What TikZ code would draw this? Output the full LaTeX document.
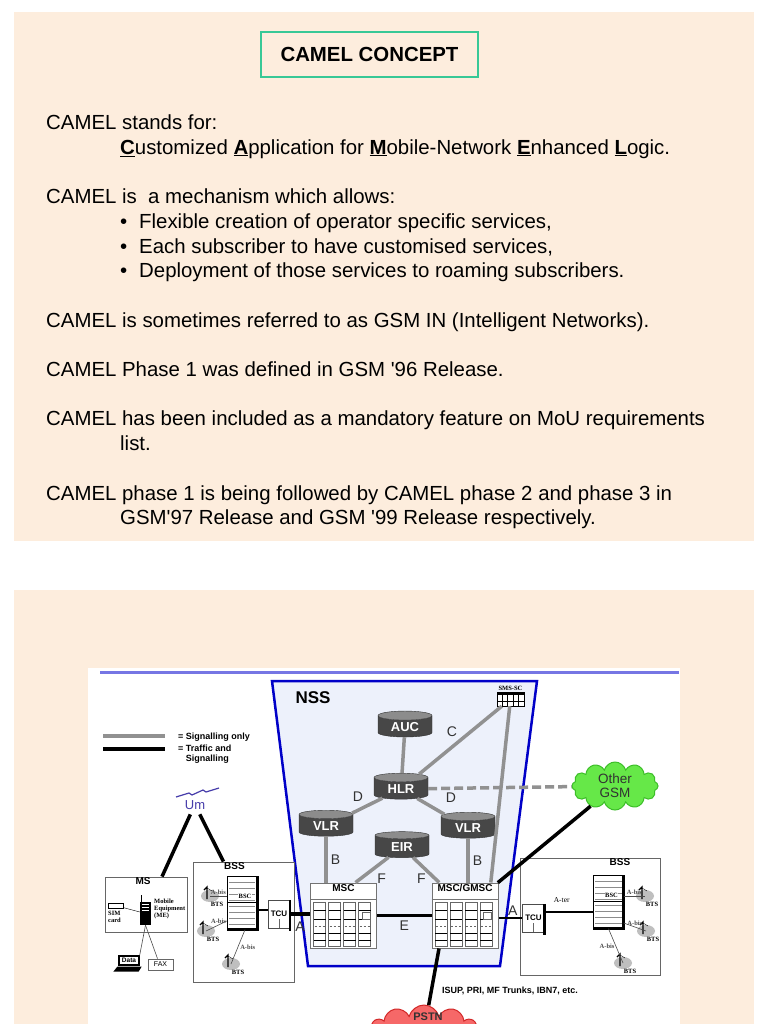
\documentclass[tikz,border=0pt]{standalone}
\usepackage{fontspec}
\setmainfont{Liberation Sans}
\setsansfont{Liberation Sans}
\newfontfamily\smallserif{Liberation Serif}
\usetikzlibrary{calc,positioning,shapes.geometric,shapes.misc,shapes.symbols}
\definecolor{paper}{RGB}{253,237,221}
\definecolor{titlegreen}{RGB}{56,200,150}
\definecolor{nssfill}{RGB}{237,241,251}
\definecolor{nssblue}{RGB}{0,0,200}
\definecolor{rulerblue}{RGB}{118,118,228}
\definecolor{siggray}{RGB}{145,145,145}
\definecolor{labelgray}{RGB}{50,50,50}
\definecolor{umblue}{RGB}{70,60,170}
\definecolor{gsmgreen}{RGB}{102,232,72}
\definecolor{gsmedge}{RGB}{60,190,40}
\definecolor{pstnred}{RGB}{246,104,104}
\definecolor{pstnedge}{RGB}{210,40,40}
\newcommand{\itembul}{\makebox[19pt][l]{\textbullet}}
\newcommand{\capul}[1]{\underline{\textbf{#1}}}
\tikzset{
  body/.style={anchor=base west, inner sep=0pt, font=\fontsize{20.4}{24.7}\selectfont},
  titlebox/.style={draw=titlegreen, line width=2pt, minimum width=217pt, minimum height=45pt,
    font=\bfseries\fontsize{20.4}{20.4}\selectfont},
  ne/.style={cylinder, shape border rotate=90, aspect=0.3, draw=black!80,
    cylinder uses custom fill, cylinder body fill=black!72, cylinder end fill=black!45,
    minimum width=54pt, minimum height=26pt, inner sep=1pt, text=white,
    font=\bfseries\fontsize{13}{13}\selectfont},
  cabinet/.style={chamfered rectangle, chamfered rectangle corners={north west,north east},
    chamfered rectangle xsep=5pt, chamfered rectangle ysep=5pt, draw=black!55, fill=white,
    line width=1pt, minimum width=66pt, minimum height=65pt, inner sep=0pt},
  cablbl/.style={font=\bfseries\fontsize{10}{10}\selectfont, inner sep=1pt},
  bsc/.style={rectangle, draw, fill=white, minimum width=30pt, minimum height=53pt, inner sep=0pt},
  tcu/.style={rectangle, draw=black!70, fill=white, minimum width=22pt, minimum height=28pt,
    inner sep=0pt, font=\bfseries\fontsize{8}{8}\selectfont},
  frame/.style={rectangle, draw=black!60, line width=0.8pt, fill=white, inner sep=0pt},
  boxlbl/.style={font=\bfseries\fontsize{10}{10}\selectfont, inner sep=1pt},
  smsbox/.style={rectangle, draw, fill=white, minimum width=27pt, minimum height=14pt, inner sep=0pt},
  sig/.style={siggray, line width=3.5pt},
  traffic/.style={black, line width=3.5pt},
  abis/.style={black!70, line width=0.6pt},
  lbl/.style={labelgray, font=\fontsize{14}{14}\selectfont, inner sep=1pt},
  legend/.style={font=\bfseries\fontsize{9}{10}\selectfont, inner sep=0pt, align=left},
  tiny/.style={font=\smallserif\bfseries\fontsize{6.5}{7}\selectfont, inner sep=0pt, align=left},
  umlbl/.style={umblue, font=\fontsize{13}{13}\selectfont, inner sep=1pt},
  gsmcloud/.style={cloud, cloud puffs=12, aspect=1.8, draw=gsmedge, fill=gsmgreen, line width=1pt,
    minimum width=86pt, minimum height=48pt, inner sep=0pt, align=center, text=labelgray,
    font=\fontsize{13.5}{14}\selectfont},
  pstncloud/.style={cloud, cloud puffs=11, aspect=2, draw=pstnedge, fill=pstnred, line width=1pt,
    minimum width=108pt, minimum height=52pt, inner sep=0pt},
}
\begin{document}
\begin{tikzpicture}[x=1pt,y=-1pt]
\useasboundingbox (0,0) rectangle (768,1024);
\fill[white] (0,0) rectangle (768,1024);
\fill[paper] (14,12) rectangle (754,541);
\fill[paper] (14,590) rectangle (754,1024);

% upper panel: the text
\node[titlebox] (title) at (369.5,54.5) {CAMEL CONCEPT};
\node[body] (stands) at (46,129.5) {CAMEL stands for:};
\node[body] (expand) at (120,154.2) {\capul{C}ustomized \capul{A}pplication for \capul{M}obile-Network \capul{E}nhanced \capul{L}ogic.};
\node[body] (mech) at (46,203.6) {CAMEL is~ a mechanism which allows:};
\node[body] (bulA) at (120,228.3) {\itembul Flexible creation of operator specific services,};
\node[body] (bulB) at (120,253) {\itembul Each subscriber to have customised services,};
\node[body] (bulC) at (120,277.7) {\itembul Deployment of those services to roaming subscribers.};
\node[body] (gsmin) at (46,327.1) {CAMEL is sometimes referred to as GSM IN (Intelligent Networks).};
\node[body] (phase) at (46,376.5) {CAMEL Phase 1 was defined in GSM \textquotesingle96 Release.};
\node[body] (mou) at (46,425.9) {CAMEL has been included as a mandatory feature on MoU requirements};
\node[body] (moub) at (120,450.6) {list.};
\node[body] (next) at (46,500) {CAMEL phase 1 is being followed by CAMEL phase 2 and phase 3 in};
\node[body] (nextb) at (120,524.7) {GSM\textquotesingle97 Release and GSM \textquotesingle99 Release respectively.};

% lower panel: the network
\fill[white] (88,668) rectangle (680,1024);
\draw[rulerblue, line width=3pt] (100,672) -- (679,672);
\draw[nssblue, line width=2.5pt, fill=nssfill] (272,681) -- (537,681) -- (500,966) -- (308,966) -- cycle;
\node[font=\bfseries\fontsize{17}{17}\selectfont] (nss) at (313,698) {NSS};

% legend
\draw[sig] (103,736) -- (165,736);
\draw[traffic] (103,749) -- (165,749);
\node[legend, anchor=west] (legsig) at (178,737) {= Signalling only};
\node[legend, anchor=north west] (legtra) at (178,745) {= Traffic and\\\phantom{= }Signalling};

% network elements
\node[ne] (auc) at (405,727) {AUC};
\node[ne] (hlr) at (401,789) {HLR};
\node[ne] (vlrl) at (326,826) {VLR};
\node[ne] (vlrr) at (468,828) {VLR};
\node[ne] (eir) at (402,847) {EIR};
\node[smsbox] (smssc) at (510.5,699) {};
\node[tiny, above=1pt of smssc] (smslbl) {SMS-SC};
\fill (smssc.north west) rectangle ($(smssc.north east)+(0,3)$);
\foreach \i in {1,...,4} \draw ($(smssc.north west)+(\i*5.4,3)$) -- +(0,11);
\draw ($(smssc.west)+(0,2)$) -- ($(smssc.east)+(0,2)$);
\node[gsmcloud] (gsm) at (615,786) {Other\\GSM};

\node[cabinet] (msc) at (343.5,915.5) {};
\node[cablbl, below=1pt of msc.north] {MSC};
\node[cabinet] (gmsc) at (465,915.5) {};
\node[cablbl, below=1pt of gmsc.north] {MSC/GMSC};
\foreach \m in {msc,gmsc}{
  \coordinate (\m-nw) at (\m.north -| \m.west);
  \draw[black!55] ($(\m-nw)+(0,17)$) -- +(66,0);
  \foreach \c in {0,1,2,3}{
    \draw[black!60, fill=white] ($(\m-nw)+(3.5+\c*15,20)$) rectangle +(12,44);
    \foreach \r in {8,17,31,38}
      \draw[line width=1.6pt] ($(\m-nw)+(3.5+\c*15,20+\r)$) -- +(12,0);
    \draw[black!60, dash pattern=on 2pt off 2pt, line width=1.2pt] ($(\m-nw)+(4.5+\c*15,44)$) -- +(10,0);
  }
  \draw[black!60] ($(\m-nw)+(52,30)$) rectangle +(8,7);
}

% access side
\node[frame, minimum width=101pt, minimum height=120pt] (bssl) at (243.5,922) {};
\node[boxlbl, below=0pt of bssl.north, xshift=-9pt] {BSS};
\node[bsc] (bscl) at (242,903) {};
\node[tcu] (tcul) at (279,914) {TCU};
\node[frame, minimum width=140pt, minimum height=117pt] (bssr) at (590,916.5) {};
\node[boxlbl, below=0pt of bssr.north, xshift=30pt] {BSS};
\node[bsc] (bscr) at (608.5,902) {};
\node[tcu] (tcur) at (533.5,918) {TCU};
\foreach \b in {bscl,bscr}{
  \foreach \r in {6,12,...,48}
    \draw[black!45] ($(\b.north west)+(2,\r)$) -- ($(\b.north east)+(-2,\r)$);
  \draw[line width=1.5pt] ($(\b.north west)+(0,26)$) -- ($(\b.north east)+(0,26)$);
  \draw[line width=3pt] (\b.north east) -- (\b.south east) -- (\b.south west);
  \node[tiny, fill=white, inner sep=0.5pt] at ($(\b.north)+(3,20)$) {BSC};
}
\foreach \t in {tcul,tcur}{
  \draw[black!60] (\t.south) -- ($(\t.center)+(0,5)$);
  \draw[line width=2.5pt] (\t.north east) -- ($(\t.south east)+(0,3)$);
}
\foreach \n/\x/\y in {btsa/210/896, btsb/206/931, btsc/231/964, btsd/645/896, btse/646/931, btsf/623/963}{
  \fill[black!25] (\x,\y) ellipse (9pt and 6pt);
  \draw[line width=1.3pt] (\x-3,\y+3) -- (\x-3,\y-9) -- (\x-6,\y-6);
  \draw (\x-3,\y-8) -- (\x+2,\y-5);
  \coordinate (\n) at (\x,\y);
  \node[tiny] at (\x+7,\y+8) {BTS};
}
\draw[abis] (btsa) -- node[tiny, above=1pt] {A-bis} (bscl.west |- btsa);
\draw[abis] (btsb) -- node[tiny, above=1pt, pos=.6] {A-bis} (bscl.west |- 0,921);
\draw[abis] ([xshift=3pt]bscl.south) -- node[tiny, right=2pt] {A-bis} (btsc);
\draw[abis] (bscr.east |- btsd) -- node[tiny, above=1pt] {A-bis} (btsd);
\draw[abis] (bscr.east |- 0,923) -- node[tiny, above=1pt] {A-bis} (btse);
\draw[abis] (bscr.south) -- node[tiny, left=1pt] {A-bis} (btsf);

% mobile station
\node[frame, minimum width=82pt, minimum height=55pt] (ms) at (146,904.5) {};
\node[boxlbl, below=0pt of ms.north, xshift=-3pt] {MS};
\node[rectangle, fill=black, minimum width=11pt, minimum height=23pt, inner sep=0pt] (me) at (145.5,913.5) {};
\foreach \r in {3,6,9} \draw[white, line width=0.8pt] ($(me.north west)+(2,\r)$) -- +(7,0);
\draw[line width=1pt] ($(me.north west)+(2,0)$) -- +(0,-7);
\node[rectangle, draw, fill=white, minimum width=15pt, minimum height=5pt, inner sep=0pt] (sim) at (115.5,905.5) {};
\draw (sim) -- (me);
\node[tiny, anchor=north west] at (108,911) {SIM\\card};
\node[tiny, anchor=north west] at (154,899) {Mobile\\Equipment\\(ME)};
\node[rectangle, draw, line width=1.3pt, fill=white, minimum width=20pt, minimum height=9pt, inner sep=0pt,
  font=\bfseries\fontsize{6.5}{6.5}\selectfont] (data) at (129,960.5) {Data};
\fill ($(data.south west)+(-1,1)$) -- ($(data.south east)+(2,1)$) -- ($(data.south east)+(-1,6)$) -- ($(data.south west)+(-5,6)$) -- cycle;
\node[frame, minimum width=25pt, minimum height=11pt, font=\fontsize{7}{7}\selectfont] (fax) at (160.5,964.5) {FAX};
\draw[abis] (me.south) -- (data.north east);
\draw[abis] (me.south) -- ([xshift=-3pt]fax.north);

% air interface
\node[umlbl] (um) at (195,805) {Um};
\draw[umblue, line width=1.2pt] (176,797) -- (189,793) -- (192,795) -- (203,790) -- (206,792) -- (219,788);
\draw[traffic, shorten <=4pt] ([xshift=-3pt]um.south) -- ([xshift=16pt]ms.north);
\draw[traffic, shorten <=4pt] ([xshift=3pt]um.south) -- ([xshift=-20pt]bssl.north);

% PSTN, cut by the lower edge
\begin{scope}
\clip (0,0) rectangle (768,1024);
\node[pstncloud] (pstn) at (424,1031) {};
\end{scope}
\node[labelgray, font=\bfseries\fontsize{11}{11}\selectfont, inner sep=0pt] (pstnlbl) at (428,1017) {PSTN};

% connections
\draw[sig] (auc) -- (hlr);
\draw[sig] (hlr) -- node[lbl, above left=1pt] {C} (smssc);
\draw[sig] (smssc) -- (gmsc.52);
\draw[sig, dash pattern=on 9pt off 4pt] (hlr) -- (gsm);
\draw[sig] (hlr) -- node[lbl, above left=2pt] {D} (vlrl);
\draw[sig] (hlr) -- node[lbl, above right=2pt, xshift=11pt] {D} (vlrr);
\draw[sig] (vlrl) -- node[lbl, right=2pt] {B} (vlrl |- msc.north);
\draw[sig] (vlrr) -- node[lbl, right=2pt] {B} (vlrr |- gmsc.north);
\draw[sig] (eir) -- node[lbl, below right=1pt, xshift=2pt] {F} (msc.70);
\draw[sig] (eir) -- node[lbl, below left=1pt, xshift=3pt] {F} (gmsc.128);
\draw[traffic] (gsm) -- (gmsc.45);
\draw[traffic] (msc) -- node[lbl, below=3pt] {E} (gmsc);
\draw[traffic, line width=2.5pt] (gmsc.east |- tcur.west) -- node[lbl, above, pos=.6] {A} (tcur.west);
\draw[traffic, line width=2pt] (tcur.30) -- node[font=\smallserif\fontsize{7.5}{7.5}\selectfont, above=5pt, pos=.35] {A-ter} (bscr.west |- tcur.30);
\draw[traffic] (tcul.east) -- node[lbl, below=5pt] {A} (msc.west |- tcul.east);
\draw[traffic, line width=2.5pt] (bscl.east |- tcul.160) -- (tcul.160);
\draw[traffic] ([xshift=-26pt]gmsc.south) -- node[legend, pos=.75, right=9pt] {ISUP, PRI, MF Trunks, IBN7, etc.} (pstn);
\end{tikzpicture}
\end{document}
